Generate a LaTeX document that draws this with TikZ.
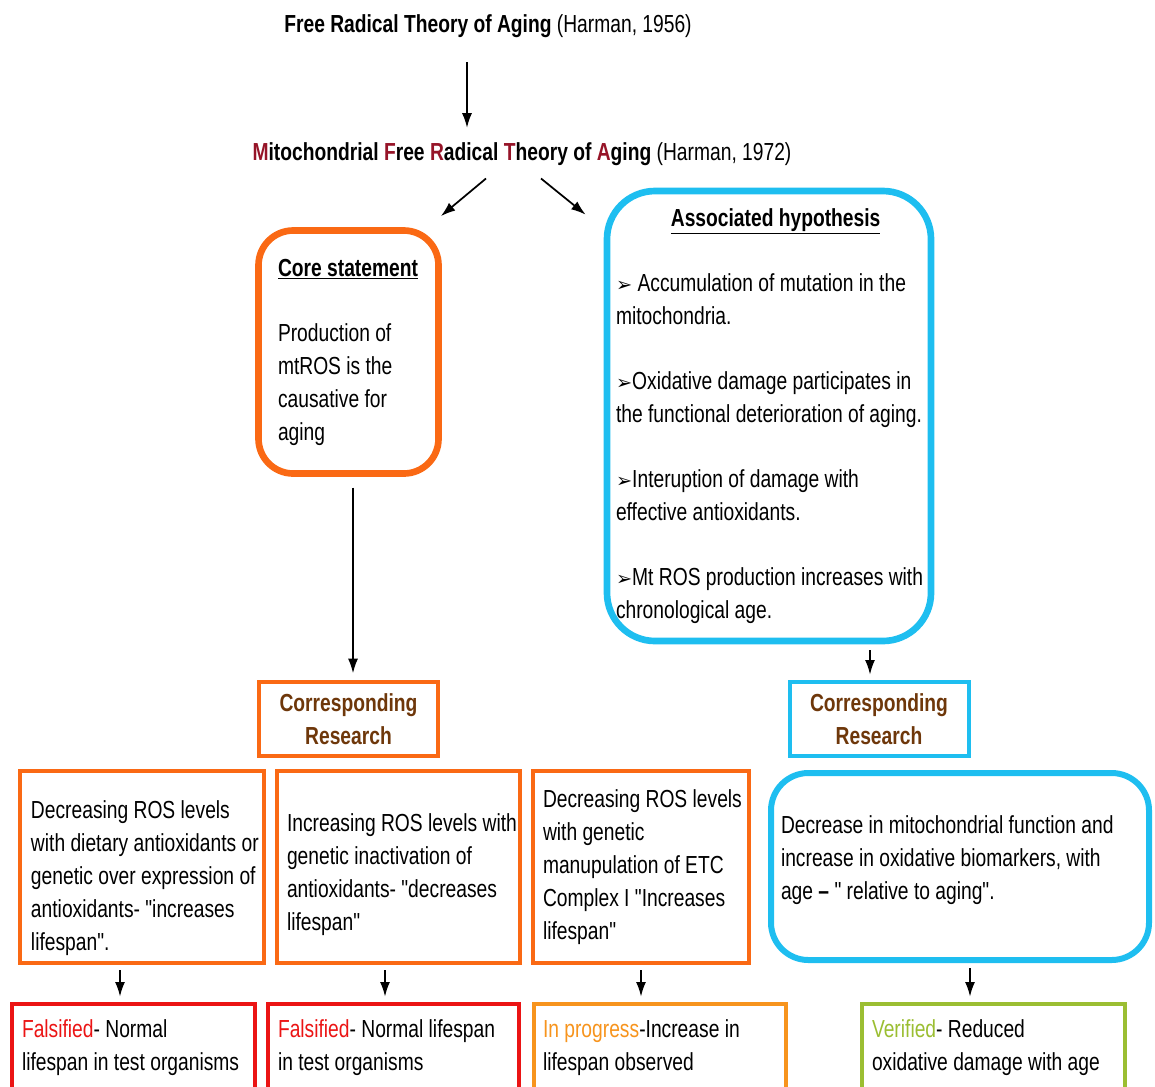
\documentclass[tikz,border=0pt]{standalone}
\usepackage{fontspec}
\setmainfont[FakeStretch=0.78,Ligatures=TeXOff]{Liberation Sans}
\newfontfamily\bulletfont{DejaVu Sans}
\usetikzlibrary{arrows.meta}
\usepackage{xcolor}
\definecolor{coreorange}{RGB}{250,105,20}
\definecolor{hypcyan}{RGB}{30,190,240}
\definecolor{resbrown}{RGB}{110,55,10}
\definecolor{falsered}{RGB}{235,20,20}
\definecolor{progorange}{RGB}{247,148,29}
\definecolor{verigreen}{RGB}{155,190,50}
\definecolor{initred}{RGB}{150,20,40}
\newcommand\pxu{0.75pt}
\newcommand\hbul{{\bulletfont\fontsize{14.5}{14.5}\selectfont ➢}}

\begin{document}
\begin{tikzpicture}[x=0.75pt,y=-0.75pt,font=\fontsize{18.5}{24.75}\selectfont]
\tikzset{
  arr/.style={-{Latex[length=11pt,width=7.5pt]},line width=1.3pt},
  roundbox/.style={rounded corners=26pt,line width=5pt,inner sep=0pt,align=flush left},
  flatbox/.style={line width=3pt,inner sep=0pt,align=flush left},
  resbox/.style={line width=3pt,inner sep=0pt,align=center,font=\fontsize{18.5}{24.75}\selectfont\bfseries\color{resbrown},
    minimum width=179*\pxu,minimum height=74*\pxu},
  title/.style={inner sep=0pt,anchor=base}
}
\useasboundingbox (0,0) rectangle (1155,1086);
\clip (0,0) rectangle (1155,1086);

% theories
\node [title] (frta) at (488,32) {\textbf{Free Radical Theory of Aging} (Harman, 1956)};
\node [title] (mfrta) at (522,160) {\textbf{\textcolor{initred}{M}itochondrial \textcolor{initred}{F}ree \textcolor{initred}{R}adical \textcolor{initred}{T}heory of \textcolor{initred}{A}ging} (Harman, 1972)};

% core statement and hypothesis
\node [roundbox,draw=coreorange,minimum width=180*\pxu,minimum height=243*\pxu,text width=141*\pxu] (core) at (348.5,352)
  {\underline{\textbf{Core statement}}\\[24pt]Production of\\mtROS is the\\causative for\\aging};
\node [roundbox,draw=hypcyan,rounded corners=36pt,minimum width=324*\pxu,minimum height=450*\pxu,text width=306*\pxu] (hyp) at (769,416)
  {\makebox[\hsize]{\hspace{10pt}\underline{\textbf{Associated hypothesis}}}\\[24pt]
   \hbul{} Accumulation of mutation in the\\mitochondria.\\[24pt]
   \hbul Oxidative damage participates in\\\mbox{the functional deterioration of aging.}\\[24pt]
   \hbul Interuption of damage with\\effective antioxidants.\\[24pt]
   \mbox{\hbul Mt ROS production increases with}\\chronological age.};

% corresponding research
\node [resbox,draw=coreorange] (res1) at (348.5,719) {Corresponding\\Research};
\node [resbox,draw=hypcyan] (res2) at (879,719) {Corresponding\\Research};

% research lines
\node [flatbox,draw=coreorange,minimum width=244*\pxu,minimum height=192*\pxu,text width=222*\pxu] (decdiet) at (142,867)
  {\rule{0pt}{30pt}Decreasing ROS levels\\\mbox{with dietary antioxidants or}\\\mbox{genetic over expression of}\\antioxidants- "increases\\lifespan".};
\node [flatbox,draw=coreorange,minimum width=243*\pxu,minimum height=192*\pxu,text width=223*\pxu] (incgen) at (398.5,867)
  {\rule{0pt}{25.5pt}\mbox{Increasing ROS levels with}\\genetic inactivation of\\\mbox{antioxidants- "decreases}\\lifespan"};
\node [flatbox,draw=coreorange,minimum width=216*\pxu,minimum height=192*\pxu,text width=196*\pxu] (decetc) at (641,867)
  {\mbox{Decreasing ROS levels}\\with genetic\\\mbox{manupulation of ETC}\\\mbox{Complex I "Increases}\\lifespan"};
\node [roundbox,draw=hypcyan,rounded corners=28pt,line width=4.5pt,minimum width=378*\pxu,minimum height=187*\pxu,text width=358*\pxu] (mitofun) at (960,866.5)
  {Decrease in mitochondrial function and\\increase in oxidative biomarkers, with\\age \textbf{–} " relative to aging".\rule[-14pt]{0pt}{14pt}};

% outcomes
\node [flatbox,draw=falsered,minimum width=243*\pxu,minimum height=88*\pxu,text width=223*\pxu] (fals1) at (133.5,1048)
  {\textcolor{falsered}{Falsified}- Normal\\\mbox{lifespan in test organisms}};
\node [flatbox,draw=falsered,minimum width=251*\pxu,minimum height=88*\pxu,text width=231*\pxu] (fals2) at (393.5,1048)
  {\mbox{\textcolor{falsered}{Falsified}- Normal lifespan}\\in test organisms};
\node [flatbox,draw=progorange,minimum width=252*\pxu,minimum height=88*\pxu,text width=234*\pxu] (prog) at (660,1048)
  {\mbox{\textcolor{progorange}{In progress}-Increase in}\\lifespan observed};
\node [flatbox,draw=verigreen,minimum width=263*\pxu,minimum height=88*\pxu,text width=243*\pxu] (veri) at (993.5,1048)
  {\textcolor{verigreen}{Verified}- Reduced\\\mbox{oxidative damage with age}};

\draw [arr] ([xshift=-21*\pxu,yshift=-25*\pxu]frta.south) -- ([xshift=-55*\pxu,yshift=14*\pxu]mfrta.north);
\draw [arr] ([xshift=-36*\pxu,yshift=-13*\pxu]mfrta.south) -- ([xshift=-1*\pxu,yshift=11*\pxu]core.north east);
\draw [arr] ([xshift=19*\pxu,yshift=-13*\pxu]mfrta.south) -- ([xshift=-18*\pxu,yshift=-27*\pxu]hyp.north west);
\draw [arr,shorten <=8pt,shorten >=5pt] ([xshift=4.5*\pxu]core.south) -- ([xshift=4.5*\pxu]res1.north);
\draw [arr,shorten <=4.5pt,shorten >=4pt] ([xshift=101*\pxu]hyp.south) -- ([xshift=-9*\pxu]res2.north);
\draw [arr,shorten <=4pt,shorten >=4pt] ([xshift=-22*\pxu]decdiet.south) -- ([xshift=-13.5*\pxu]fals1.north);
\draw [arr,shorten <=4pt,shorten >=4pt] ([xshift=-13.5*\pxu]incgen.south) -- ([xshift=-8.5*\pxu]fals2.north);
\draw [arr,shorten <=4pt,shorten >=4pt] (decetc.south) -- ([xshift=-19*\pxu]prog.north);
\draw [arr,shorten <=4pt,shorten >=4pt] ([xshift=10*\pxu]mitofun.south) -- ([xshift=-23.5*\pxu]veri.north);
\end{tikzpicture}
\end{document}
